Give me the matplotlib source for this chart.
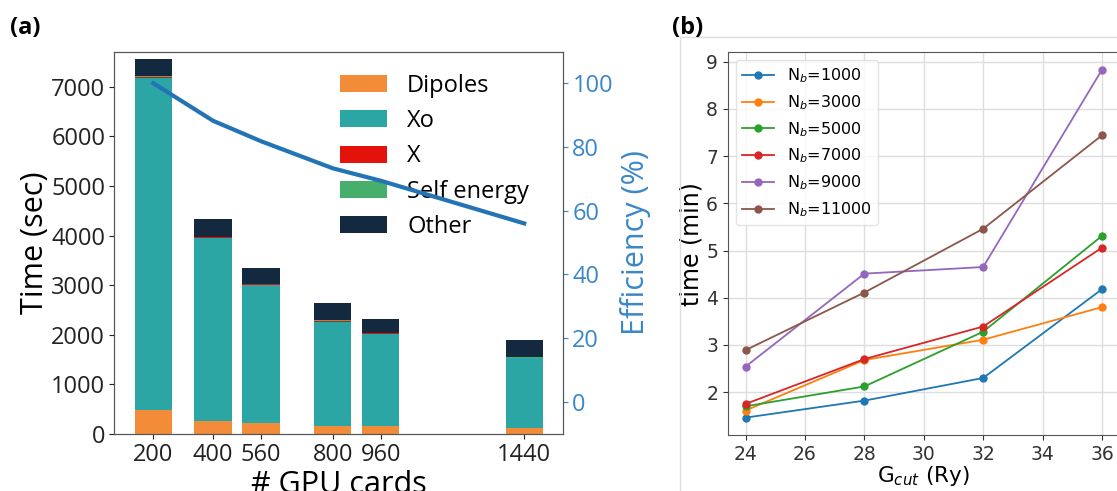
import matplotlib
matplotlib.use('Agg')
import matplotlib.pyplot as plt
from matplotlib.patches import Rectangle
import numpy as np

# panel (a): time breakdown vs number of GPUs
gpus = [200, 400, 560, 800, 960, 1440]
dipoles = [486, 268, 215, 168, 168, 127]
xo = [6697, 3677, 2789, 2096, 1842, 1399]
x_part = [25, 22, 20, 18, 18, 16]
self_energy = [15, 12, 10, 10, 10, 8]
other = [344, 349, 319, 343, 280, 345]
efficiency = [100, 88.2, 81.8, 73.3, 69.4, 56.0]

# panel (b): time vs cutoff for several band numbers
gcut = [24, 28, 32, 36]
nb_labels = ['1000', '3000', '5000', '7000', '9000', '11000']
t_1000 = [1.46, 1.82, 2.30, 4.18]
t_3000 = [1.61, 2.68, 3.11, 3.80]
t_5000 = [1.70, 2.12, 3.28, 5.31]
t_7000 = [1.75, 2.70, 3.39, 5.06]
t_9000 = [2.54, 4.51, 4.65, 8.83]
t_11000 = [2.89, 4.11, 5.46, 7.44]

fig = plt.figure(figsize=(11.17, 4.91), dpi=100)
fa = 'Open Sans'
fb = 'DejaVu Sans'

ax = fig.add_axes([0.1023, 0.1161, 0.402, 0.7786])
cols = ['#F28C38', '#2CA6A4', '#E3120B', '#48AE6B', '#12293F']
names = ['Dipoles', 'Xo', 'X', 'Self energy', 'Other']
parts = [dipoles, xo, x_part, self_energy, other]
bottom = np.zeros(len(gpus))
for vals, c, n in zip(parts, cols, names):
    ax.bar(gpus, vals, width=125, bottom=bottom, color=c, label=n)
    bottom += np.array(vals)
ax.set_ylim(0, 7710)
ax.set_xticks(gpus)
ax.set_yticks(range(0, 7001, 1000))
ax.tick_params(labelsize=17, colors='#222222', pad=3)
for t in ax.get_xticklabels() + ax.get_yticklabels():
    t.set_family(fa)
ax.set_ylabel('Time (sec)', fontsize=22, labelpad=1, family=fa)
ax.set_xlabel('# GPU cards', fontsize=22, labelpad=2, family=fa)
for s in ax.spines.values():
    s.set_color('#555555')
ax.legend(loc='upper left', bbox_to_anchor=(0.455, 0.998), frameon=False,
          prop={'family': fa, 'size': 17}, handlelength=2.0, handleheight=0.75,
          handletextpad=0.85, labelspacing=0.48)

ax2 = ax.twinx()
ax2.plot(gpus, efficiency, color='#2274B5', lw=3)
ax2.set_ylim(-10.1, 109.9)
ax2.set_yticks([0, 20, 40, 60, 80, 100])
ax2.tick_params(labelsize=17, colors='#3A87C8', pad=3)
for t in ax2.get_yticklabels():
    t.set_family(fa)
ax2.set_ylabel('Efficiency (%)', fontsize=22, color='#3A87C8', labelpad=5, family=fa)
for s in ax2.spines.values():
    s.set_color('#555555')

fig.text(0.009, 0.93, '(a)', fontsize=17, fontweight='bold', family=fa)

# panel (b)
fig.patches.append(Rectangle((0.609, -0.01), 0.5, 0.935, transform=fig.transFigure,
                             fill=False, edgecolor='#DDDDDD', lw=1))
fig.text(0.602, 0.93, '(b)', fontsize=17, fontweight='bold', family=fa)

bx = fig.add_axes([0.6515, 0.114, 0.351, 0.7795])
series = [t_1000, t_3000, t_5000, t_7000, t_9000, t_11000]
for vals, lab in zip(series, nb_labels):
    bx.plot(gcut, vals, marker='o', ms=5, lw=1.3, label='N$_b$=' + lab)
bx.grid(True, color='#DDDDDD', lw=1)
bx.set_axisbelow(True)
bx.set_xticks([24, 26, 28, 30, 32, 34, 36])
bx.set_yticks([2, 3, 4, 5, 6, 7, 8, 9])
bx.tick_params(labelsize=13.5, colors='#333333')
for t in bx.get_xticklabels() + bx.get_yticklabels():
    t.set_family(fb)
bx.set_xlabel('G$_{cut}$ (Ry)', fontsize=15.5, labelpad=0, family=fb)
bx.set_ylabel('time (min)', fontsize=17, labelpad=2, family=fb)
for s in bx.spines.values():
    s.set_color('#555555')
bx.legend(loc='upper left', prop={'family': fb, 'size': 11.5}, framealpha=0.8,
          edgecolor='#DDDDDD')

plt.savefig('out.png', dpi=100)
